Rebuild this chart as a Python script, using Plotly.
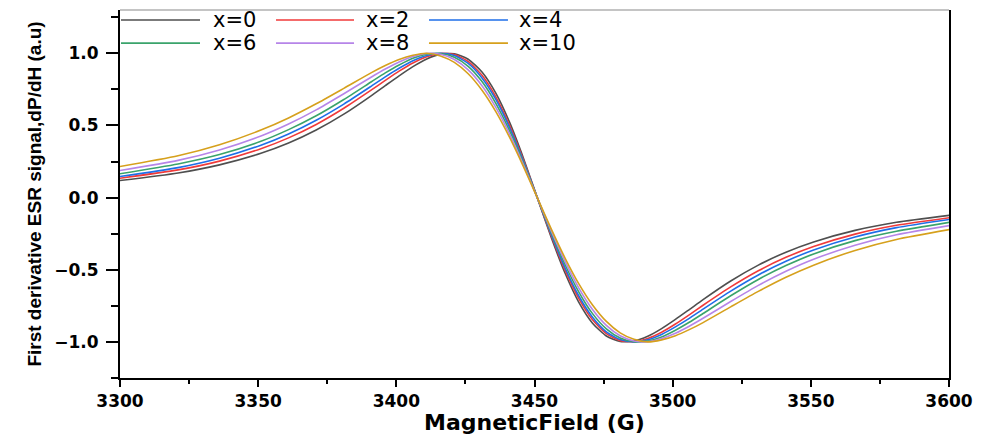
import plotly.graph_objects as go

# Magnetic field (G)
field = [3299, 3321, 3336, 3351, 3361, 3371, 3381, 3391, 3396, 3401, 3406, 3411, 3416,
         3421, 3426, 3431, 3436, 3441, 3446, 3451, 3456, 3461, 3466, 3471, 3476, 3481,
         3486, 3491, 3496, 3501, 3506, 3511, 3521, 3531, 3541, 3551, 3566, 3581, 3603]

labels = ["x=0", "x=2", "x=4", "x=6", "x=8", "x=10"]
colors = ["#4f4f4f", "#f03a3a", "#1e6ee8", "#3aa36b", "#b685e8", "#d6a01c"]

s_x0 = [0.116, 0.171, 0.227, 0.307, 0.378, 0.468, 0.578, 0.707, 0.776, 0.844, 0.908, 0.961, 0.994,
        0.997, 0.959, 0.870, 0.724, 0.521, 0.273, 0.0, -0.273, -0.521, -0.724, -0.870, -0.959,
        -0.997, -0.994, -0.961, -0.908, -0.844, -0.776, -0.707, -0.578, -0.468, -0.378, -0.307,
        -0.227, -0.171, -0.116]
s_x2 = [0.132, 0.192, 0.253, 0.339, 0.414, 0.507, 0.619, 0.746, 0.812, 0.876, 0.933, 0.976, 0.999,
        0.991, 0.943, 0.847, 0.698, 0.499, 0.261, 0.0, -0.261, -0.499, -0.698, -0.847, -0.943,
        -0.991, -0.999, -0.976, -0.933, -0.876, -0.812, -0.746, -0.619, -0.507, -0.414, -0.339,
        -0.253, -0.192, -0.132]
s_x4 = [0.143, 0.208, 0.273, 0.363, 0.441, 0.536, 0.648, 0.773, 0.837, 0.896, 0.948, 0.985, 1.000,
        0.984, 0.930, 0.829, 0.680, 0.484, 0.252, 0.0, -0.252, -0.484, -0.680, -0.829, -0.930,
        -0.984, -1.000, -0.985, -0.948, -0.896, -0.837, -0.773, -0.648, -0.536, -0.441, -0.363,
        -0.273, -0.208, -0.143]
s_x6 = [0.162, 0.233, 0.298, 0.390, 0.471, 0.567, 0.680, 0.803, 0.864, 0.919, 0.966, 0.994, 0.999,
        0.973, 0.910, 0.804, 0.653, 0.462, 0.240, 0.0, -0.240, -0.462, -0.653, -0.804, -0.910,
        -0.973, -0.999, -0.994, -0.966, -0.919, -0.864, -0.803, -0.680, -0.567, -0.471, -0.390,
        -0.298, -0.233, -0.162]
s_x8 = [0.185, 0.258, 0.330, 0.427, 0.510, 0.608, 0.720, 0.836, 0.891, 0.940, 0.977, 0.999, 0.993,
        0.957, 0.885, 0.775, 0.625, 0.440, 0.227, 0.0, -0.227, -0.440, -0.625, -0.775, -0.885,
        -0.957, -0.993, -0.999, -0.977, -0.940, -0.891, -0.836, -0.720, -0.608, -0.510, -0.427,
        -0.330, -0.258, -0.185]
s_x10 = [0.212, 0.290, 0.366, 0.468, 0.552, 0.650, 0.757, 0.866, 0.915, 0.957, 0.986, 1.000, 0.982,
         0.937, 0.858, 0.744, 0.596, 0.417, 0.215, 0.0, -0.215, -0.417, -0.596, -0.744, -0.858,
         -0.937, -0.982, -1.000, -0.986, -0.957, -0.915, -0.866, -0.757, -0.650, -0.552, -0.468,
         -0.366, -0.290, -0.212]

series = [s_x0, s_x2, s_x4, s_x6, s_x8, s_x10]

x_ticks = [3300, 3350, 3400, 3450, 3500, 3550, 3600]
y_ticks = [-1.0, -0.5, 0.0, 0.5, 1.0]

fig = go.Figure()
for name, col, ys in zip(labels, colors, series):
    fig.add_trace(go.Scatter(x=field, y=ys, mode="lines", name=name,
                             line=dict(color=col, width=1.6, shape="spline", smoothing=0.6),
                             showlegend=False))

tick_font = dict(family="DejaVu Sans", size=17, color="black", weight="bold")

fig.update_layout(
    width=974, height=427,
    margin=dict(l=112, r=33, t=2, b=50),
    paper_bgcolor="white", plot_bgcolor="white",
    xaxis=dict(range=[3300, 3600], tickvals=x_ticks, ticks="outside", ticklen=7, tickwidth=1.5,
               tickcolor="black", showline=True, linecolor="black", linewidth=2, mirror=False,
               showgrid=False, zeroline=False, tickfont=tick_font,
               minor=dict(dtick=25, tick0=3300, ticks="outside", ticklen=4, tickcolor="black", tickwidth=1.5),
               title=dict(text="MagneticField (G)", standoff=6,
                          font=dict(family="DejaVu Sans", size=22, color="black", weight="bold"))),
    yaxis=dict(range=[-1.25, 1.3], tickvals=y_ticks, tickformat=".1f", ticks="outside", ticklen=12,
               tickwidth=1.5, tickcolor="black", showline=True, linecolor="black", linewidth=2,
               mirror=True, showgrid=False, zeroline=False, tickfont=tick_font, ticklabelstandoff=4,
               minor=dict(dtick=0.25, tick0=-1.25, ticks="outside", ticklen=7, tickcolor="black", tickwidth=1.5),
               title=dict(text="First derivative ESR signal,dP/dH (a.u)", standoff=8,
                          font=dict(family="Liberation Sans", size=19, color="black", weight="bold"))),
)

# top frame line
fig.add_shape(type="line", xref="paper", yref="paper", x0=0, x1=1, y0=1, y1=1,
              line=dict(color="#8a8a8a", width=1.2))

# custom legend (long line samples, 2 rows x 3 columns)
col_x = [(0.0012, 0.0965, 0.1098), (0.1882, 0.2823, 0.2943), (0.3727, 0.4680, 0.4789)]
row_y = [0.9728, 0.9101]
for i, (name, col) in enumerate(zip(labels, colors)):
    r, c = divmod(i, 3)
    x0, x1, xt = col_x[c]
    y = row_y[r]
    fig.add_shape(type="line", xref="paper", yref="paper", x0=x0, x1=x1, y0=y, y1=y,
                  line=dict(color=col, width=1.6))
    fig.add_annotation(xref="paper", yref="paper", x=xt, y=y, text=name, showarrow=False,
                       xanchor="left", yanchor="middle",
                       font=dict(family="DejaVu Sans", size=21, color="black"))

fig.write_html("out.html")
